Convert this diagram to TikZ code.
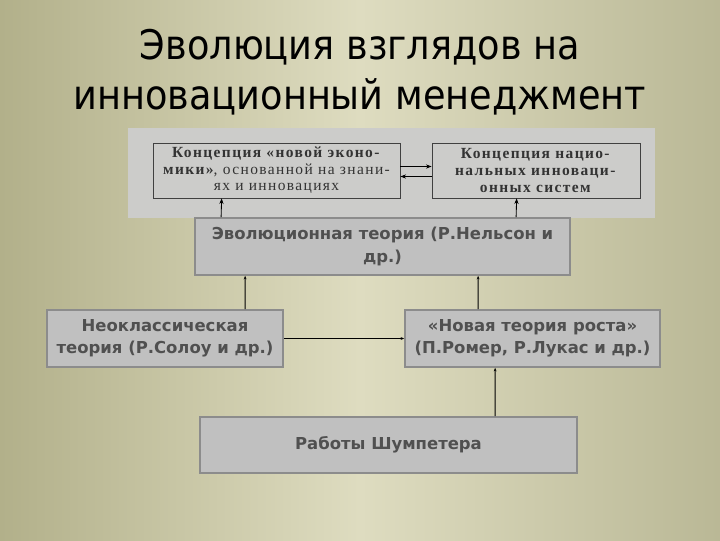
\documentclass[tikz,border=0pt]{standalone}
\usepackage{fontspec}
\setmainfont{Liberation Serif}
\setsansfont{DejaVu Sans}
\newfontfamily\titlefont{DejaVu Sans Condensed}
\usetikzlibrary{arrows.meta,positioning,calc}

\definecolor{bgdark}{RGB}{178,176,138}
\definecolor{bglight}{RGB}{222,220,192}
\definecolor{panelgray}{RGB}{204,204,202}
\definecolor{boxgray}{RGB}{192,192,192}
\definecolor{boxline}{RGB}{140,140,140}
\definecolor{boxtext}{RGB}{80,80,80}

\begin{document}
\begin{tikzpicture}[x=0.025cm,y=-0.025cm,
    graybox/.style={draw=boxline,line width=1.2pt,fill=boxgray,text=boxtext,
        font=\sffamily\bfseries\fontsize{11.7}{16}\selectfont,align=center,
        inner sep=0pt},
    conbox/.style={draw=black!75,line width=0.5pt,fill=panelgray,text=black!80,
        font=\rmfamily\fontsize{11}{11.8}\selectfont\addfontfeature{LetterSpace=9},
        align=center,inner sep=0pt},
    arr/.style={-{Stealth[length=4pt,width=3pt]},line width=0.6pt},
    smallarr/.style={-{Stealth[length=2.5pt,width=2pt]},line width=0.8pt}]

    % 1. Background
    \useasboundingbox (0,0) rectangle (720,540);
    \shade[left color=bgdark,right color=bgdark!90,middle color=bglight]
        (0,0) rectangle (720,540);

    % 2. Title
    \node[font=\titlefont\fontsize{29}{36}\selectfont,align=center] (title)
        at (360,72) {Эволюция взглядов на\\инновационный менеджмент};

    % 3. Top panel with the two concepts
    \node[fill=panelgray,minimum width=13.175cm,minimum height=2.25cm,inner sep=0pt]
        (panel) at (391.5,173) {};
    \node[conbox,minimum width=6.175cm,minimum height=1.375cm] (konc1) at (276.5,170.5)
        {\textbf{Концепция «новой эконо-}\\\textbf{мики»}, основанной на знани-\\ях и инновациях};
    \node[conbox,minimum width=5.2cm,minimum height=1.375cm] (konc2) at (536,170.5)
        {\textbf{Концепция нацио-}\\\textbf{нальных инноваци-}\\\textbf{онных систем}};
    \draw[arr] ($(konc1.east)+(0,-4)$) -- ($(konc2.west)+(0,-4)$);
    \draw[arr] ($(konc2.west)+(0,6)$) -- ($(konc1.east)+(0,6)$);

    % 4. Theory boxes
    \node[graybox,minimum width=9.375cm,minimum height=1.425cm] (evol) at (382.5,246.5)
        {Эволюционная теория (Р.Нельсон и\\др.)};
    \node[graybox,minimum width=5.9cm,minimum height=1.425cm] (neo) at (165,338.5)
        {Неоклассическая\\теория (Р.Солоу и др.)};
    \node[graybox,minimum width=6.375cm,minimum height=1.425cm] (newgr) at (532.5,338.5)
        {«Новая теория роста»\\(П.Ромер, Р.Лукас и др.)};
    \node[graybox,minimum width=9.425cm,minimum height=1.4cm] (schump) at (388.5,445)
        {Работы Шумпетера};

    % 5. Connectors
    \draw[arr] ($(evol.north west)+(27,0)$) -- ($(konc1.south west)+(69,0)$);
    \draw[arr] ($(evol.north west)+(322,0)$) -- ($(konc2.south west)+(85,0)$);
    \draw[smallarr] ($(neo.north west)+(199,0)$) -- ($(evol.south west)+(51,0)$);
    \draw[smallarr] ($(newgr.north west)+(74,0)$) -- ($(evol.south west)+(284,0)$);
    \draw[smallarr] (neo.east) -- (newgr.west);
    \draw[smallarr] ($(schump.north west)+(296,0)$) -- ($(newgr.south west)+(91,0)$);

\end{tikzpicture}
\end{document}
